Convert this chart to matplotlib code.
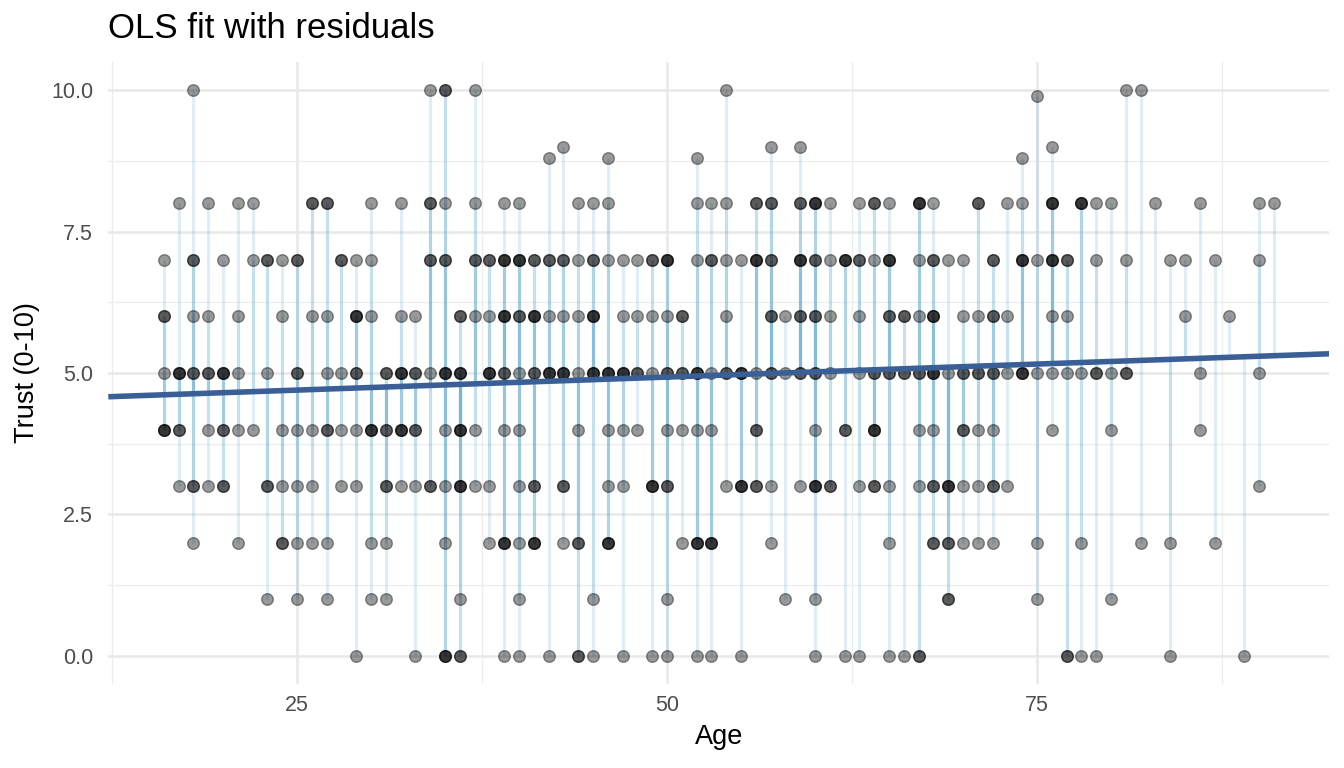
import matplotlib
matplotlib.use('Agg')
import matplotlib.pyplot as plt
import numpy as np

# ages of the respondents at each trust level (an age repeated = overlapping respondents)
ages_at_10 = [18, 34, 35, 35, 37, 54, 81, 82]
ages_at_9_9 = [75]
ages_at_9 = [43, 57, 59, 76]
ages_at_8_8 = [42, 46, 52, 74]
ages_at_8 = [17, 19, 21, 22, 26, 26, 27, 27, 30, 32, 34, 34, 35, 37, 39, 40, 44, 45, 46,
             52, 53, 54, 56, 56, 57, 57, 59, 59, 60, 60, 60, 61, 63, 64, 64, 65, 67, 67, 67,
             68, 71, 71, 73, 74, 76, 76, 76, 78, 78, 78, 79, 80, 83, 86, 90, 91]
ages_at_7 = [16, 18, 18, 20, 22, 23, 23, 24, 25, 25, 28, 28, 29, 30, 34, 34, 35, 35, 37, 37,
             38, 38, 39, 39, 39, 40, 40, 40, 41, 41, 42, 42, 43, 43, 44, 45, 45, 46, 47, 48,
             49, 49, 50, 50, 50, 52, 53, 53, 54, 55, 56, 56, 56, 57, 57, 59, 59, 59, 60, 60,
             61, 62, 62, 62, 63, 63, 64, 65, 65, 65, 67, 68, 68, 69, 70, 72, 72, 74, 74, 74,
             75, 76, 76, 76, 77, 77, 79, 81, 84, 85, 87, 90]
ages_at_6 = [16, 16, 18, 19, 21, 24, 26, 27, 29, 29, 29, 30, 32, 33, 36, 36, 37, 38, 39, 39,
             39, 40, 40, 41, 41, 41, 42, 43, 44, 45, 45, 45, 47, 48, 49, 50, 51, 51, 54, 57,
             57, 58, 59, 59, 60, 60, 61, 63, 65, 65, 66, 66, 67, 68, 68, 68, 70, 71, 72, 72,
             73, 76, 77, 85, 88]
ages_at_5 = [16, 17, 17, 17, 18, 18, 19, 19, 20, 20, 20, 21, 23, 25, 25, 27, 28, 29, 29, 31,
             31, 32, 32, 32, 33, 33, 34, 35, 35, 35, 36, 36, 36, 38, 38, 38, 39, 39, 40, 41,
             41, 42, 42, 42, 43, 43, 43, 44, 45, 45, 45, 46, 46, 46, 47, 47, 47, 48, 48, 49,
             50, 50, 51, 51, 52, 52, 52, 53, 54, 54, 55, 55, 55, 56, 57, 57, 58, 59, 59, 60,
             60, 61, 63, 64, 64, 65, 65, 66, 66, 67, 67, 68, 68, 68, 69, 70, 70, 71, 71, 72,
             72, 73, 74, 74, 74, 75, 76, 77, 78, 79, 79, 80, 81, 81, 86, 90]
ages_at_4 = [16, 16, 16, 17, 17, 19, 20, 20, 21, 22, 24, 25, 26, 27, 27, 28, 29, 30, 30, 30,
             31, 31, 32, 32, 32, 33, 33, 35, 36, 36, 36, 37, 39, 40, 44, 46, 47, 48, 50, 51,
             52, 53, 56, 56, 60, 62, 62, 64, 64, 64, 67, 68, 70, 70, 71, 72, 76, 80, 86]
ages_at_3 = [17, 18, 18, 19, 20, 20, 23, 23, 24, 25, 26, 28, 29, 31, 31, 32, 33, 34, 34, 35,
             36, 36, 36, 37, 38, 40, 41, 41, 43, 43, 46, 47, 49, 49, 49, 50, 50, 54, 55, 55,
             55, 56, 56, 57, 59, 60, 60, 60, 61, 61, 63, 64, 64, 65, 67, 68, 68, 69, 69, 69,
             70, 71, 72, 72, 73, 90]
ages_at_2 = [18, 21, 24, 24, 25, 26, 27, 30, 31, 35, 38, 39, 39, 39, 40, 41, 41, 41, 43, 44,
             44, 46, 46, 46, 51, 52, 52, 52, 53, 53, 53, 57, 65, 68, 68, 69, 69, 70, 71, 72,
             75, 78, 82, 84, 87]
ages_at_1 = [23, 25, 27, 30, 31, 36, 40, 45, 50, 58, 60, 69, 69, 75, 80]
ages_at_0 = [29, 33, 35, 35, 35, 36, 36, 39, 40, 42, 44, 44, 45, 47, 49, 50, 52, 53, 55, 60,
             62, 63, 65, 66, 67, 67, 77, 77, 78, 79, 84, 89]

trust_levels = [10, 9.9, 9, 8.8, 8, 7, 6, 5, 4, 3, 2, 1, 0]
age_groups = [ages_at_10, ages_at_9_9, ages_at_9, ages_at_8_8, ages_at_8, ages_at_7, ages_at_6,
              ages_at_5, ages_at_4, ages_at_3, ages_at_2, ages_at_1, ages_at_0]

# fitted OLS line
fit_intercept = 4.467
fit_slope = 0.00921

x_ticks = [25, 50, 75]
y_ticks = [0, 2.5, 5, 7.5, 10]

age = np.concatenate([np.array(a, dtype=float) for a in age_groups])
trust = np.concatenate([np.full(len(a), t, dtype=float) for a, t in zip(age_groups, trust_levels)])
fitted = fit_intercept + fit_slope * age

plt.rcParams['font.family'] = ['Liberation Sans', 'DejaVu Sans']

fig = plt.figure(figsize=(13.44, 7.68), dpi=100)
ax = fig.add_axes([0.0806, 0.1094, 0.9085, 0.8099])

xlim = (12.25, 94.75)
ax.set_xlim(*xlim)
ax.set_ylim(-0.5, 10.5)

# theme_minimal look
for s in ax.spines.values():
    s.set_visible(False)
ax.set_xticks(x_ticks)
ax.set_yticks(y_ticks)
ax.set_xticks([12.5, 37.5, 62.5, 87.5], minor=True)
ax.set_yticks([1.25, 3.75, 6.25, 8.75], minor=True)
ax.set_yticklabels(['%.1f' % v for v in y_ticks])
ax.grid(which='major', color='#e8e8e8', lw=1.8, zorder=0)
ax.grid(which='minor', color='#ececec', lw=0.9, zorder=0)
ax.set_axisbelow(True)
ax.tick_params(which='both', length=0)
ax.tick_params(axis='y', pad=11, labelsize=15.5, labelcolor='#4d4d4d')
ax.tick_params(axis='x', pad=8, labelsize=15.5, labelcolor='#4d4d4d')

# residuals
ax.vlines(age, trust, fitted, color='#6baed6', alpha=0.22, lw=2.2, zorder=2)

# observations
ax.scatter(age, trust, s=70, facecolor=(0, 0, 0, 0.4), edgecolor=(0, 0, 0, 0.4),
           linewidths=1.0, zorder=3)

# fitted line across the panel
xs = np.array(xlim)
ax.plot(xs, fit_intercept + fit_slope * xs, color='#3a5f97', lw=4.0, zorder=4,
        solid_capstyle='butt')

ax.set_xlabel('Age', fontsize=19.5, labelpad=6)
ax.set_ylabel('Trust (0-10)', fontsize=19.5, labelpad=8)
fig.text(0.0806, 1 - 38 / 768, 'OLS fit with residuals', fontsize=25, va='baseline', ha='left')

fig.savefig('out.png', dpi=100)
